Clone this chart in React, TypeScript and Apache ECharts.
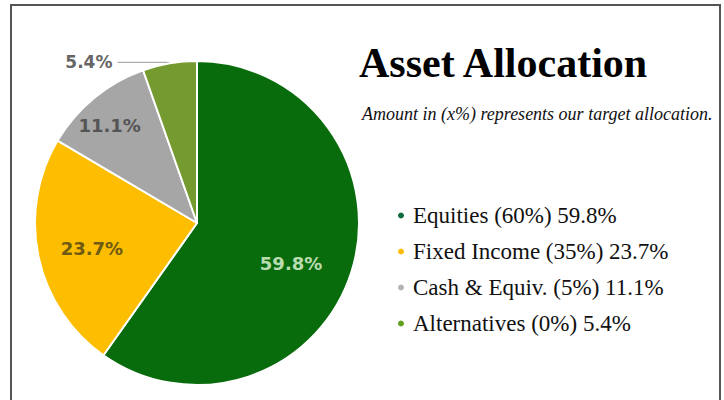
import React, { useEffect, useRef } from "react";
import * as echarts from "echarts";

const categories = ["Equities", "Fixed Income", "Cash & Equiv.", "Alternatives"];
const targets = [60, 35, 5, 0];
const actuals = [59.8, 23.7, 11.1, 5.4];

const sliceColors = ["#086b0c", "#fdbd00", "#a6a6a6", "#749a30"];
const dotColors = ["#0e6b3c", "#fbbc05", "#b2b5b9", "#62a01b"];
const labelColors = ["#b9dcb0", "#6e5a12", "#555555", "#666666"];
// extra nudges (px) applied to the default inside label positions
const labelNudges = [
  [14, 15],
  [-23, 8],
  [-34, -33],
  [0, 0],
];

const CX = 197;
const CY = 223;
const R = 162;

export default function App() {
  const ref = useRef<HTMLDivElement>(null);
  useEffect(() => {
    if (!ref.current) return;
    const chart = echarts.init(ref.current, undefined, { renderer: "svg" });

    const serif = "'Liberation Serif', 'Times New Roman', serif";
    chart.setOption({
      animation: false,
      backgroundColor: "#ffffff",
      graphic: [
        {
          type: "rect",
          shape: { x: 11, y: 5, width: 709, height: 420 },
          style: { fill: "none", stroke: "#555555", lineWidth: 2 },
          silent: true,
        },
      ],
      title: [
        {
          text: "Asset Allocation",
          left: 354,
          top: 37,
          textStyle: { fontFamily: serif, fontWeight: "bold", fontSize: 42, color: "#000000" },
        },
        {
          text: "Amount in (x%) represents our target allocation.",
          left: 357,
          top: 100,
          textStyle: { fontFamily: serif, fontStyle: "italic", fontWeight: "normal", fontSize: 18, color: "#111111" },
        },
      ],
      legend: {
        orient: "vertical",
        left: 391,
        top: 199,
        itemWidth: 14,
        itemHeight: 8,
        itemGap: 13,
        icon: "circle",
        data: categories.map((c, i) => ({ name: c, itemStyle: { color: dotColors[i] } })),
        formatter: (name: string) => {
          const i = categories.indexOf(name);
          return `${name} (${targets[i]}%) ${actuals[i]}%`;
        },
        textStyle: { fontFamily: serif, fontSize: 23, color: "#111111" },
      },
      series: [
        {
          type: "pie",
          center: [CX, CY],
          radius: R,
          startAngle: 90,
          clockwise: true,
          avoidLabelOverlap: false,
          itemStyle: { borderColor: "#ffffff", borderWidth: 2 },
          label: {
            show: true,
            position: "inside",
            formatter: "{c}%",
            fontFamily: "'DejaVu Sans', sans-serif",
            fontWeight: "bold",
            fontSize: 18,
          },
          labelLine: { show: true, length: 1, length2: 52, lineStyle: { color: "#9a9a9a", width: 1 } },
          labelLayout: (params: any) => ({
            dx: labelNudges[params.dataIndex][0],
            dy: labelNudges[params.dataIndex][1],
          }),
          emphasis: { disabled: true },
          data: categories.map((c, i) => ({
            name: c,
            value: actuals[i],
            itemStyle: { color: sliceColors[i] },
            label:
              i === 3
                ? { position: "outside", color: labelColors[i], fontSize: 17 }
                : { color: labelColors[i] },
            labelLine: { show: i === 3 },
          })),
        },
      ],
    });
    return () => chart.dispose();
  }, []);
  return (
    <div
      ref={ref}
      style={{ position: "fixed", left: 0, top: 0, width: 724, height: 400 }}
    />
  );
}
